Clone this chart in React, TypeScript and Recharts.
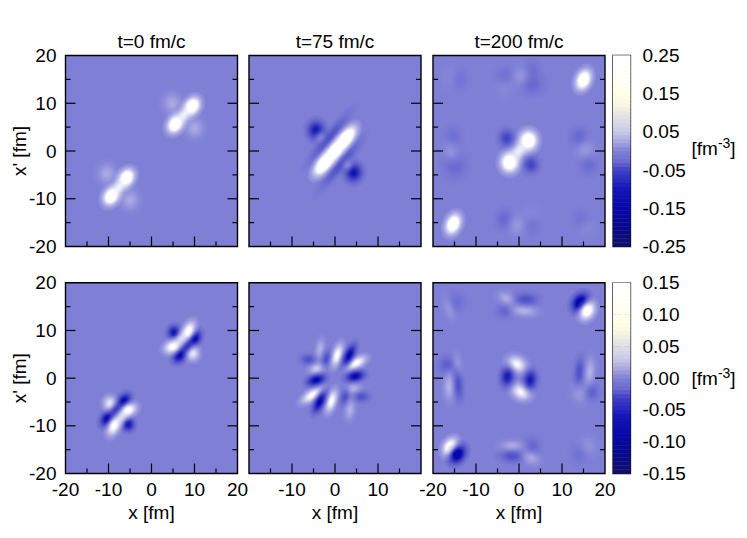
import React from "react";
import { ScatterChart, Scatter, XAxis, YAxis, ReferenceArea, ReferenceLine } from "recharts";

type Blob = [number, number, number, number, number, number];

const titles = ["t=0 fm/c", "t=75 fm/c", "t=200 fm/c"];
const xTicks = [-20, -15, -10, -5, 0, 5, 10, 15, 20];
const topBarTicks = [-0.25, -0.15, -0.05, 0.05, 0.15, 0.25];
const bottomBarTicks = [-0.15, -0.1, -0.05, 0, 0.05, 0.1, 0.15];

// Each feature: x, x', value, long width, short width, angle (all in data units)
const wignerT0: Blob[] = [
  [9.5, 9.4, 0.32, 1.0, 0.8, 45], [5.5, 5.6, 0.32, 1.0, 0.8, 45], [7.5, 7.5, 0.14, 1.2, 0.65, 45],
  [4.8, 10, 0.04, 1, 1, 0], [10, 4.8, 0.04, 1, 1, 0],
  [-5.8, -5.6, 0.32, 1.0, 0.8, 45], [-9.4, -9.5, 0.32, 1.0, 0.8, 45], [-7.6, -7.6, 0.14, 1.2, 0.65, 45],
  [-10.4, -4.8, 0.04, 1, 1, 0], [-5, -10.3, 0.04, 1, 1, 0],
];
const wignerT75: Blob[] = [
  [2.5, 2.6, 0.4, 1.5, 0.72, 47], [-2.5, -2.6, 0.4, 1.5, 0.72, 47], [0, 0, 0.4, 1.5, 0.72, 47],
  [-4.4, 4.3, -0.15, 0.95, 0.95, 0], [4.3, -4.5, -0.16, 0.95, 0.95, 0],
  [-1.4, 2.8, -0.05, 3, 0.55, 47], [1.4, -2.8, -0.05, 3, 0.55, 47],
  [-3.5, 3, 0.03, 0.6, 0.6, 0], [3, -3, 0.03, 0.6, 0.6, 0],
];
const wignerT200: Blob[] = [
  [15, 14.9, 0.32, 1.1, 0.8, 60], [-15.3, -15.3, 0.32, 1.1, 0.8, 60],
  [2.2, 2.2, 0.32, 1, 1, 0], [-2.2, -2.4, 0.32, 1, 1, 0], [0, 0, 0.14, 1.2, 0.8, 45],
  [-2.9, 2.7, -0.07, 0.85, 0.85, 0], [2.8, -2.9, -0.07, 0.85, 0.85, 0],
  [0.6, 15.5, 0.02, 1, 1, 0], [3, 13.9, -0.02, 1.3, 1, 0], [3, 17, -0.012, 1, 1, 0],
  [-3.3, 15.6, -0.01, 1, 1, 0], [-3.4, 13.2, 0.006, 1, 1, 0], [-16, 15.5, 0.006, 1, 1, 0], [-14, 15, -0.01, 1, 1, 0],
  [-15.7, -0.5, 0.02, 1.2, 0.8, 110], [-15.3, 3, -0.012, 1, 1, 0], [-14.9, -3, -0.02, 1.3, 1.3, 0],
  [14, 2.9, -0.02, 1, 1, 0], [15.4, 0.2, 0.02, 1, 1, 0], [16.1, -2.9, -0.016, 1, 1, 0],
  [-3.3, -14.4, -0.02, 1, 1, 0], [-0.5, -15.5, 0.02, 1, 1, 0], [3, -15.5, -0.01, 1, 1, 0], [3, -13.5, 0.006, 1, 1, 0],
  [15.7, -15.8, 0.006, 1, 1, 0], [14.5, -14.4, -0.008, 1, 1, 0],
];
const imagT0: Blob[] = [
  [5.2, 9.6, -0.09, 0.7, 0.7, 0], [10, 8.3, -0.11, 0.9, 0.65, 45], [6.6, 4.8, -0.11, 0.9, 0.65, 45],
  [8.6, 9.9, 0.12, 1.1, 0.65, 60], [4.9, 6.6, 0.12, 1.0, 0.65, 20], [9.6, 5.2, 0.08, 0.75, 0.75, 0],
  [8.3, 6.6, -0.05, 0.9, 0.55, 45], [6.8, 8.3, 0.05, 0.9, 0.55, 45],
  [-6.4, -4.8, -0.11, 0.9, 0.65, 45], [-10.3, -8.5, -0.11, 0.9, 0.65, 45], [-5.4, -9.7, -0.09, 0.7, 0.7, 0],
  [-9.7, -5.3, 0.08, 0.75, 0.75, 0], [-5.4, -6.7, 0.12, 1.0, 0.65, 20], [-8.7, -10, 0.12, 1.1, 0.65, 60],
  [-8.3, -6.6, -0.05, 0.9, 0.55, 45], [-6.9, -8.3, 0.05, 0.9, 0.55, 45],
];
const imagT75: Blob[] = [
  [0.5, 4.8, 0.11, 1.2, 0.55, 70], [5, 3.2, 0.11, 1.2, 0.55, 25], [-5.4, -3.6, 0.11, 1.3, 0.55, 30], [-0.8, -4.8, 0.11, 1.2, 0.55, 70],
  [-4.3, 2, 0.05, 0.85, 0.55, 10], [-3.5, 6.2, 0.03, 1.0, 0.5, 80], [4.3, -2.2, 0.03, 0.85, 0.55, 10], [3.5, -6.7, 0.03, 1.0, 0.55, 80],
  [3.3, 4.8, -0.11, 1.2, 0.55, 60], [4.7, 0.4, -0.11, 1.05, 0.55, 10], [-4.4, -0.4, -0.11, 1.05, 0.55, 15], [-3.6, -5, -0.11, 1.2, 0.55, 60],
  [-2, 4.1, -0.03, 0.85, 0.5, 70], [-6.2, 3.9, -0.03, 0.85, 0.55, 0], [2.3, -3.9, -0.03, 0.85, 0.5, 70], [6.2, -3.9, -0.03, 0.85, 0.55, 0],
];
const imagT200: Blob[] = [
  [14.2, 15.9, -0.14, 1.05, 0.8, 45], [15.9, 14.1, 0.15, 1.0, 0.75, 50], [-16, -14.4, 0.15, 1.0, 0.75, 50], [-14.3, -16, -0.14, 1.05, 0.8, 45],
  [-2.9, 16.7, 0.025, 1.0, 0.65, -20], [1.6, 16.5, -0.03, 1.3, 0.65, 0], [1.2, 14.1, 0.03, 1.5, 0.55, -5], [-3.3, 14.1, -0.015, 0.9, 0.7, 0],
  [-16.3, 14.6, 0.012, 1.2, 0.6, 110], [-14.5, 15.9, -0.008, 1, 1, 0],
  [-1.6, -14.2, 0.025, 1.3, 0.55, 0], [-1.6, -16.4, -0.03, 1.3, 0.65, 0], [2.8, -16.7, 0.025, 1, 0.65, -20], [3.1, -14.2, -0.012, 0.9, 0.9, 0],
  [15.9, -14.4, 0.01, 1, 1, 0], [14.2, -15.8, -0.008, 1, 1, 0],
  [-16.8, 2.7, -0.02, 0.9, 0.9, 0], [-14.3, 3.1, 0.012, 1.0, 0.5, 100], [-16.3, -1.8, 0.03, 1.4, 0.6, 90], [-14.1, -1.5, -0.03, 1.5, 0.55, 95],
  [14, 1.3, -0.03, 1.4, 0.55, 85], [16.5, 1.3, 0.03, 1.4, 0.55, 85], [16.7, -2.9, -0.02, 0.85, 0.85, 0], [14.2, -3.2, 0.012, 1, 1, 0],
  [-0.5, 2.9, 0.1, 1.1, 0.8, -20], [0.5, -2.9, 0.1, 1.1, 0.8, -20], [-2.7, 0.3, -0.085, 1.0, 0.75, 80], [2.6, -0.4, -0.085, 1.0, 0.75, 80],
];

const W = 747;
const H = 538;
const FONT = "'Liberation Sans', Arial, sans-serif";
const FS = 19;
const BG = "#7f7fd6";
const cols = [[65.5, 237.5], [249, 421], [433, 605]];
const rows = [[55.5, 246.5], [282.8, 473.5]];
const paletteStops: [number, string][] = [
  [1, "#ffffff"], [0.8, "#fffff8"], [0.6, "#ffffe8"], [0.48, "#f6f6e2"], [0.4, "#e8e8e4"], [0.32, "#dcdce8"], [0.2, "#c8c8e6"],
  [0.08, "#a0a0dc"], [0, "#8080d6"], [-0.12, "#6868d0"], [-0.2, "#4040c4"], [-0.32, "#2828c0"], [-0.4, "#1414b8"],
  [-0.6, "#0808a8"], [-0.8, "#08088c"], [-1, "#101068"],
];
const hex = (c: string) => [1, 3, 5].map((i) => parseInt(c.slice(i, i + 2), 16));
function paletteAt(t: number) {
  for (let i = 0; i < paletteStops.length - 1; i++) {
    const [a, ca] = paletteStops[i];
    const [b, cb] = paletteStops[i + 1];
    if (t <= a && t >= b) {
      const f = (t - b) / (a - b);
      const A = hex(ca);
      const B = hex(cb);
      return `rgb(${A.map((v, k) => Math.round(B[k] + (v - B[k]) * f)).join(",")})`;
    }
  }
  return paletteStops[0][1];
}

const toPoints = (list: Blob[]) =>
  list.map(([x, y, value, long, short, angle]) => ({ x, y, value, long, short, angle }));

function BlobShape(props: any) {
  const { cx, cy, payload, index, id, kx, ky, sat } = props;
  const gid = `${id}-${index}`;
  const { value, long, short, angle } = payload;
  const a = Math.abs(value) / sat;
  const color = value > 0 ? "#ffffff" : "#0606b0";
  const soft = 1.15;
  const stops = [];
  for (let i = 0; i <= 16; i++) {
    const r = i / 16;
    const alpha = Math.pow(Math.min(1, a * Math.exp(-(9 * r * r) / 2)), 0.75);
    stops.push(<stop key={i} offset={r} stopColor={color} stopOpacity={i === 16 ? 0 : alpha} />);
  }
  return (
    <g transform={`translate(${cx},${cy}) scale(${kx},${-ky}) rotate(${angle})`}>
      <radialGradient id={gid}>{stops}</radialGradient>
      <ellipse rx={3 * soft * long} ry={3 * soft * short} fill={`url(#${gid})`} />
    </g>
  );
}

function AxisTick(props: any) {
  const { x, y, payload, side, labelled } = props;
  const v = payload.value;
  const isMajor = v % 10 === 0;
  const len = isMajor ? 10 : 5;
  let line = null;
  if (Math.abs(v) !== 20) {
    if (side === "bottom") line = <line x1={x} x2={x} y1={y} y2={y - len} stroke="#000" strokeWidth={1.2} />;
    if (side === "top") line = <line x1={x} x2={x} y1={y} y2={y + len} stroke="#000" strokeWidth={1.2} />;
    if (side === "left") line = <line x1={x} x2={x + len} y1={y} y2={y} stroke="#000" strokeWidth={1.2} />;
    if (side === "right") line = <line x1={x} x2={x - len} y1={y} y2={y} stroke="#000" strokeWidth={1.2} />;
  }
  let label = null;
  const show = labelled && isMajor && (labelled === "all" || Math.abs(v) !== 20);
  if (show && side === "bottom") label = <text x={x} y={y + 22} textAnchor="middle" fontSize={FS} fontFamily={FONT} fill="#000">{v}</text>;
  if (show && side === "left") label = <text x={x - 9} y={y + 6.5} textAnchor="end" fontSize={FS} fontFamily={FONT} fill="#000">{v}</text>;
  return <g>{line}{label}</g>;
}

function Panel({ id, col, row, points, vmax, title, xLabelled, yLabelled }: any) {
  const [l, r] = cols[col];
  const [t, b] = rows[row];
  const kx = (r - l) / 40;
  const ky = (b - t) / 40;
  const sat = vmax * 0.7;
  return (
    <div style={{ position: "absolute", left: 0, top: 0, width: W, height: H }}>
      <ScatterChart width={W} height={H} margin={{ left: l - 1, right: W - r - 1, top: t - 1, bottom: H - b - 1 }}>
        <XAxis xAxisId="b" type="number" dataKey="x" domain={[-20, 20]} ticks={xTicks} orientation="bottom" height={1} tickSize={0} tickMargin={0} axisLine={false} tickLine={false} interval={0} allowDataOverflow
          tick={(p: any) => <AxisTick {...p} side="bottom" labelled={xLabelled} />} />
        <XAxis xAxisId="t" type="number" domain={[-20, 20]} ticks={xTicks} orientation="top" height={1} tickSize={0} tickMargin={0} axisLine={false} tickLine={false} interval={0} allowDataOverflow
          tick={(p: any) => <AxisTick {...p} side="top" labelled={false} />} />
        <YAxis yAxisId="l" type="number" dataKey="y" domain={[-20, 20]} ticks={xTicks} orientation="left" width={1} tickSize={0} tickMargin={0} axisLine={false} tickLine={false} interval={0} allowDataOverflow
          tick={(p: any) => <AxisTick {...p} side="left" labelled={yLabelled} />} />
        <YAxis yAxisId="r" type="number" domain={[-20, 20]} ticks={xTicks} orientation="right" width={1} tickSize={0} tickMargin={0} axisLine={false} tickLine={false} interval={0} allowDataOverflow
          tick={(p: any) => <AxisTick {...p} side="right" labelled={false} />} />
        <ReferenceArea xAxisId="b" yAxisId="l" x1={-20} x2={20} y1={-20} y2={20} fill={BG} fillOpacity={1} stroke="none" />
        <Scatter xAxisId="b" yAxisId="l" data={points} isAnimationActive={false}
          shape={(p: any) => <BlobShape {...p} id={id} kx={kx} ky={ky} sat={sat} />} />
        <ReferenceArea xAxisId="b" yAxisId="l" x1={-20} x2={20} y1={-20} y2={20} fill="none" stroke="#000" strokeWidth={1.4} />
        {title ? <text x={(l + r) / 2} y={48} textAnchor="middle" fontSize={FS} fontFamily={FONT} fill="#000">{title}</text> : null}
        {xLabelled ? <text x={(l + r) / 2} y={519} textAnchor="middle" fontSize={FS} fontFamily={FONT} fill="#000">x [fm]</text> : null}
        {yLabelled ? <text transform={`translate(26,${(t + b) / 2}) rotate(-90)`} textAnchor="middle" fontSize={FS} fontFamily={FONT} fill="#000">x' [fm]</text> : null}
      </ScatterChart>
    </div>
  );
}

function BarTick(props: any) {
  const { x, y, payload } = props;
  return <text x={x + 12} y={y + 6.5} fontSize={FS} fontFamily={FONT} fill="#000">{payload.value.toFixed(2)}</text>;
}

function BandShape(props: any) {
  const { cx, cy, payload, bandW, bandH } = props;
  return <rect x={cx - bandW / 2} y={cy - bandH / 2 - 0.2} width={bandW} height={bandH + 0.4} fill={payload.color} />;
}

const bandCount = 48;

function ColorBar({ row, ticks, vmax }: any) {
  const [t, b] = rows[row];
  const l = 613;
  const r = 630.5;
  const bands = [];
  for (let i = 0; i < bandCount; i++) {
    const lo = -vmax + (2 * vmax * i) / bandCount;
    const hi = -vmax + (2 * vmax * (i + 1)) / bandCount;
    const y = (lo + hi) / 2;
    bands.push({ x: 0.5, y, color: paletteAt(y / vmax) });
  }
  const labelY = row === 0 ? 155 : 385;
  return (
    <div style={{ position: "absolute", left: 0, top: 0, width: W, height: H }}>
      <ScatterChart width={W} height={H} margin={{ left: l, right: W - r - 1, top: t, bottom: H - b }}>
        <XAxis type="number" dataKey="x" domain={[0, 1]} hide />
        <YAxis type="number" dataKey="y" domain={[-vmax, vmax]} ticks={ticks} orientation="right" width={1} tickSize={0} tickMargin={0} axisLine={false} tickLine={false} interval={0} tick={(p: any) => <BarTick {...p} />} />
        <Scatter data={bands} isAnimationActive={false}
          shape={(p: any) => <BandShape {...p} bandW={r - l} bandH={(b - t) / bandCount} />} />
        {ticks.filter((v: number) => Math.abs(v) !== vmax).map((v: number) => (
          <ReferenceLine key={v} y={v} stroke="#222" strokeWidth={1.1} strokeDasharray="6 3 9" />
        ))}
        <ReferenceArea x1={0} x2={1} y1={-vmax} y2={vmax} fill="none" stroke="#111" strokeWidth={1.3} />
        <text x={691.5} y={labelY} fontSize={FS} fontFamily={FONT} fill="#000">
          <tspan>[fm</tspan>
          <tspan dy={-7} fontSize={14}>-3</tspan>
          <tspan dy={7}>]</tspan>
        </text>
      </ScatterChart>
    </div>
  );
}

export default function App() {
  return (
    <div style={{ position: "absolute", left: 0, top: 0, width: W, height: H, background: "#fff" }}>
      <Panel id="a" col={0} row={0} points={toPoints(wignerT0)} vmax={0.25} title={titles[0]} yLabelled="all" />
      <Panel id="b" col={1} row={0} points={toPoints(wignerT75)} vmax={0.25} title={titles[1]} />
      <Panel id="c" col={2} row={0} points={toPoints(wignerT200)} vmax={0.25} title={titles[2]} />
      <ColorBar row={0} ticks={topBarTicks} vmax={0.25} />
      <Panel id="d" col={0} row={1} points={toPoints(imagT0)} vmax={0.15} xLabelled="all" yLabelled="all" />
      <Panel id="e" col={1} row={1} points={toPoints(imagT75)} vmax={0.15} xLabelled="inner" />
      <Panel id="f" col={2} row={1} points={toPoints(imagT200)} vmax={0.15} xLabelled="all" />
      <ColorBar row={1} ticks={bottomBarTicks} vmax={0.15} />
    </div>
  );
}
